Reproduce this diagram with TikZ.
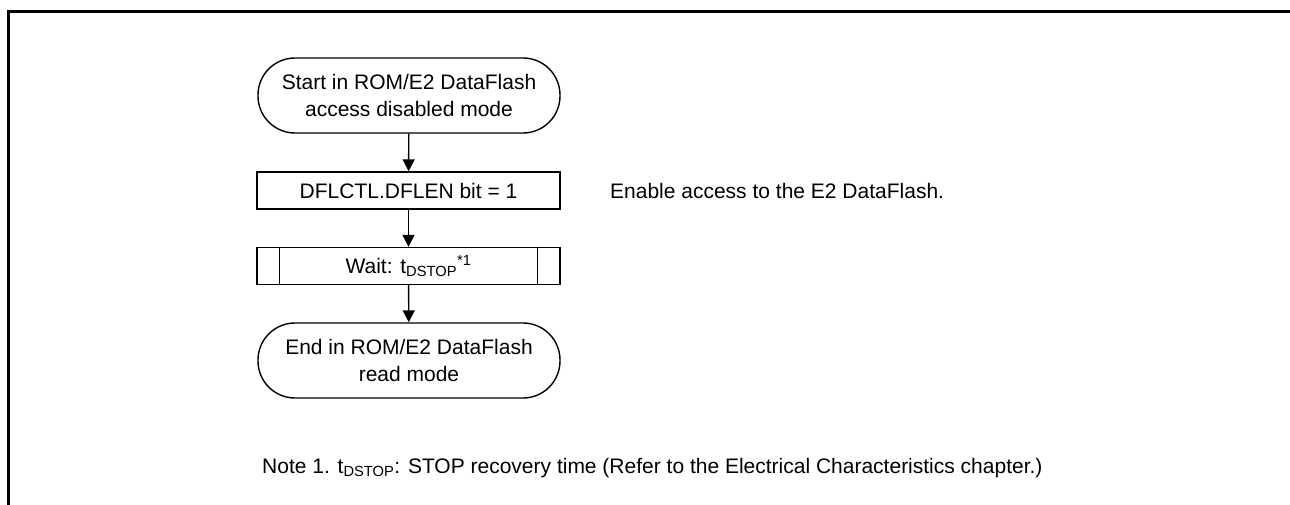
\documentclass[tikz,border=0pt]{standalone}
\usepackage{fontspec}
\setmainfont{Liberation Sans}
\usetikzlibrary{arrows.meta}
\begin{document}
\begin{tikzpicture}[x=1pt,y=-1pt,
  every node/.style={font=\fontsize{21}{27}\selectfont},
  term/.style={draw,line width=1.4pt,rectangle,rounded corners=37pt,minimum width=302pt,minimum height=75pt,align=center,inner sep=0pt},
  procbox/.style={draw,line width=1.4pt,rectangle,minimum width=303pt,minimum height=37pt,inner sep=0pt},
  flow/.style={line width=1.4pt,-{Triangle[length=12pt,width=12pt]}},
  frame/.style={line width=3pt}]
\useasboundingbox (0,0) rectangle (1290,505);
\draw[frame] (8,505) -- (8,12) -- (1290,12);
\node[term] (start) at (409,95.5) {Start in ROM/E2 DataFlash\\access disabled mode};
\node[procbox] (set) at (408.5,190.5) {DFLCTL.DFLEN bit = 1};
\node[procbox] (wait) at (408.5,266) {Wait: t\textsubscript{DSTOP}\textsuperscript{*1}};
\draw[line width=1.4pt] ([xshift=23pt]wait.north west) -- ([xshift=23pt]wait.south west);
\draw[line width=1.4pt] ([xshift=-23pt]wait.north east) -- ([xshift=-23pt]wait.south east);
\node[term] (end) at (409,360.5) {End in ROM/E2 DataFlash\\read mode};
\draw[flow] (start) -- (set);
\draw[flow] (set) -- (wait);
\draw[flow] (wait) -- (end);
\node[anchor=west,inner sep=0pt] (enable) at (610,190.5) {Enable access to the E2 DataFlash.};
\node[anchor=west,inner sep=0pt] (note) at (262,468) {Note 1. t\textsubscript{DSTOP}: STOP recovery time (Refer to the Electrical Characteristics chapter.)};
\end{tikzpicture}
\end{document}
